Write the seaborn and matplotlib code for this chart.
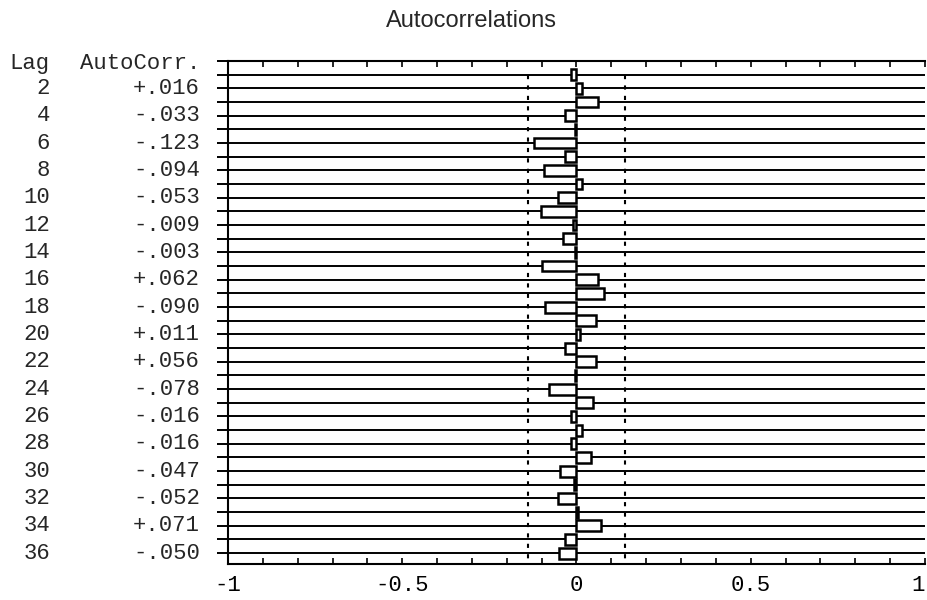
import matplotlib
matplotlib.use("Agg")
import matplotlib.pyplot as plt
import matplotlib.transforms as mtransforms
import seaborn as sns
import pandas as pd
import numpy as np

# ---- data ----
lags = list(range(1, 37))
acf = [-0.015, 0.016, 0.062, -0.033, -0.005, -0.123, -0.034, -0.094, 0.016, -0.053,
       -0.103, -0.009, -0.040, -0.003, -0.100, 0.062, 0.080, -0.090, 0.057, 0.011,
       -0.032, 0.056, -0.004, -0.078, 0.047, -0.016, 0.015, -0.016, 0.042, -0.047,
       -0.008, -0.052, 0.003, 0.071, -0.034, -0.050]
conf_bound = 0.14
xtick_values = [-1, -0.5, 0, 0.5, 1]
xtick_labels = ["-1", "-0.5", "0", "0.5", "1"]
title = "Autocorrelations"

sns.set_style("ticks")
plt.rcParams['font.family'] = ['Liberation Mono', 'DejaVu Sans']

W, H = 928, 600
fig = plt.figure(figsize=(W / 100, H / 100), dpi=100)
ax = fig.add_axes([228 / W, 36 / H, 697 / W, 503 / H])

df = pd.DataFrame({'lag': lags, 'acf': acf})

# row lines
ax.hlines(df['lag'], -1, 1, colors='black', lw=1.4, zorder=1)
# confidence bounds
ax.vlines([-conf_bound, conf_bound], 1.0, 36.4, colors='black', lw=1.5,
          linestyles=(0, (2, 3)), zorder=2)

sns.barplot(data=df, x='acf', y='lag', orient='h', native_scale=True, width=0.8,
            color='white', saturation=1, edgecolor='black', linewidth=1.8,
            ax=ax, zorder=3)

ax.set_xlim(-1, 1)
ax.set_ylim(36.8, 0)
ax.set_xlabel('')
ax.set_ylabel('')
ax.set_xticks(xtick_values)
ax.set_xticklabels(xtick_labels)
ax.set_xticks(np.arange(-1, 1.001, 0.1), minor=True)
ax.tick_params(axis='x', which='both', direction='in', length=4, width=1.2,
               top=True, labelsize=16, pad=8, colors='black')
# keep the last label inside the figure
ax.get_xticklabels()[-1].set_horizontalalignment('right')
ax.set_yticks(range(0, 37))
ax.set_yticklabels([])
ax.tick_params(axis='y', direction='out', length=8, width=1.4, colors='black')
for side in ['left', 'bottom', 'top']:
    ax.spines[side].set_linewidth(1.5)
    ax.spines[side].set_color('black')
ax.spines['right'].set_visible(False)

# left text columns
trans = mtransforms.blended_transform_factory(fig.transFigure, ax.transData)
fs = 16
ax.text(50 / W, 0.15, "Lag", transform=trans, ha='right', va='center', fontsize=fs, clip_on=False)
ax.text(200 / W, 0.15, "AutoCorr.", transform=trans, ha='right', va='center', fontsize=fs, clip_on=False)


def fmt(v):
    s = f"{v:+.3f}"
    return s[0] + s[2:]


for lag, v in zip(lags, acf):
    if lag % 2 == 0:
        ax.text(50 / W, lag, str(lag), transform=trans, ha='right', va='center',
                fontsize=fs, clip_on=False)
        ax.text(200 / W, lag, fmt(v), transform=trans, ha='right', va='center',
                fontsize=fs, clip_on=False)

fig.text(471 / W, 1 - 21 / H, title, ha='center', va='center',
         family=['Liberation Sans'], fontsize=17)

fig.savefig("out.png", dpi=100, facecolor='white')
